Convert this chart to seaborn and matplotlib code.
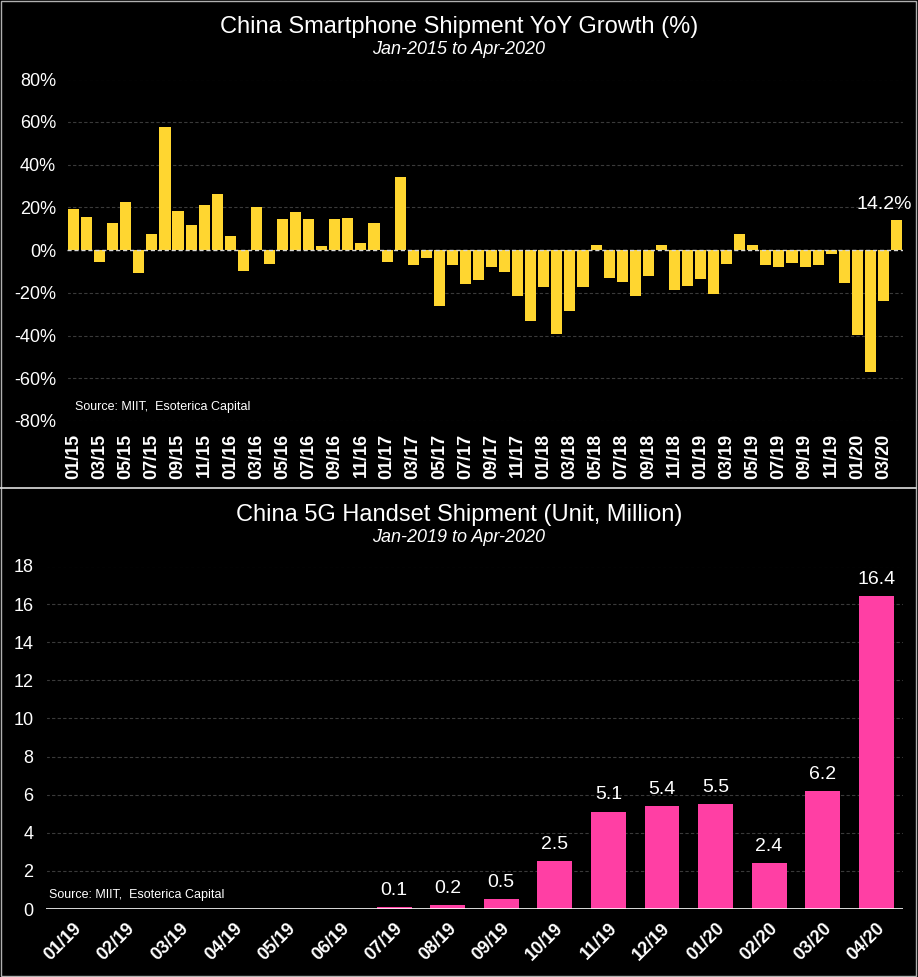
import pandas as pd
import matplotlib.pyplot as plt
import seaborn as sns
from matplotlib.lines import Line2D
from matplotlib.patches import Rectangle

# Monthly YoY growth of China smartphone shipments (%), Jan-2015 .. Apr-2020
yoy_months = pd.date_range('2015-01-01', '2020-04-01', freq='MS').strftime('%m/%y').tolist()
yoy_growth = [
    19.3, 15.6, -5.6, 12.5, 22.6, -10.7, 7.3, 57.6, 18.4, 11.8, 20.9, 26.3,
    6.4, -9.8, 20.2, -6.5, 14.3, 17.9, 14.3, 1.7, 14.3, 14.8, 3.4, 12.8,
    -5.6, 34.3, -7.0, -3.7, -26.2, -7.0, -15.7, -14.0, -7.9, -10.3, -21.5, -33.2,
    -17.3, -39.3, -28.5, -17.3, 2.5, -12.9, -15.0, -21.5, -12.1, 2.2, -18.7, -16.8,
    -13.4, -20.4, -6.5, 7.6, 2.2, -7.0, -7.9, -6.1, -7.9, -7.0, -1.9, -15.4,
    -39.7, -56.9, -24.0, 14.2,
]

# China 5G handset shipments (million units), Jan-2019 .. Apr-2020
g5_months = ['01/19', '02/19', '03/19', '04/19', '05/19', '06/19', '07/19', '08/19',
             '09/19', '10/19', '11/19', '12/19', '01/20', '02/20', '03/20', '04/20']
g5_units = [0, 0, 0, 0, 0, 0, 0.1, 0.2, 0.5, 2.5, 5.1, 5.4, 5.5, 2.4, 6.2, 16.4]

yellow = '#FFD630'
pink = '#FF3FA4'
grid_col = '#3a3a3a'

sns.set_style('dark')
plt.rcParams.update({
    'figure.facecolor': 'black',
    'axes.facecolor': 'black',
    'text.color': 'white',
    'xtick.color': 'white',
    'ytick.color': 'white',
    'axes.edgecolor': 'black',
})
plt.rcParams['font.family'] = ['Liberation Sans', 'DejaVu Sans']

fig = plt.figure(figsize=(9.18, 9.77), dpi=100)
ax1 = fig.add_axes([0.073, 0.5691, 0.9107, 0.35])
ax2 = fig.add_axes([0.0501, 0.0696, 0.9336, 0.3511])

# --- top chart: YoY growth
yoy_df = pd.DataFrame({'month': yoy_months, 'growth': yoy_growth})
sns.barplot(data=yoy_df, x='month', y='growth', color=yellow, width=0.85,
            saturation=1, linewidth=0, ax=ax1, zorder=3)
ax1.set_ylim(-80, 80)
ax1.set_xlim(-0.5, len(yoy_months) - 0.5)
ax1.set_yticks(range(-80, 81, 20))
ax1.set_yticklabels([f'{v}%' for v in range(-80, 81, 20)], fontsize=13)
ax1.set_xticks(range(0, len(yoy_months), 2))
ax1.set_xticklabels(yoy_months[::2], rotation=90, fontsize=13, fontweight='bold')
ax1.tick_params(axis='both', length=0)
ax1.tick_params(axis='y', pad=8)
ax1.tick_params(axis='x', pad=9)
ax1.set_xlabel('')
ax1.set_ylabel('')
for v in range(-80, 81, 20):
    if v != 0:
        ax1.axhline(v, color=grid_col, lw=0.8, ls=(0, (3, 2)), zorder=1)
ax1.axhline(0, color='#d8d8d8', lw=1.0, ls=(0, (3, 2)), zorder=4)
ax1.annotate(f'{yoy_growth[-1]}%', xy=(len(yoy_growth) - 1, yoy_growth[-1]),
             xytext=(-9, 5), textcoords='offset points', ha='center', va='bottom',
             fontsize=14, color='white')
ax1.text(0.009, 0.042, 'Source: MIIT,  Esoterica Capital', transform=ax1.transAxes,
         fontsize=9, color='white', va='center')

# --- bottom chart: 5G handset shipments
g5_df = pd.DataFrame({'month': g5_months, 'units': g5_units})
sns.barplot(data=g5_df, x='month', y='units', color=pink, width=0.65,
            saturation=1, linewidth=0, ax=ax2, zorder=3)
ax2.set_ylim(0, 18)
ax2.set_xlim(-0.5, len(g5_months) - 0.5)
ax2.set_yticks(range(0, 19, 2))
ax2.set_yticklabels([str(v) for v in range(0, 19, 2)], fontsize=13)
ax2.set_xticks(range(len(g5_months)))
ax2.set_xticklabels(g5_months, rotation=45, ha='right', rotation_mode='anchor',
                    fontsize=13, fontweight='bold')
ax2.tick_params(axis='both', length=0)
ax2.tick_params(axis='y', pad=9)
ax2.tick_params(axis='x', pad=8)
ax2.set_xlabel('')
ax2.set_ylabel('')
for v in range(2, 19, 2):
    ax2.axhline(v, color=grid_col, lw=0.8, ls=(0, (3, 2)), zorder=1)
ax2.axhline(0, color='white', lw=1.2, zorder=4)
for i, u in enumerate(g5_units):
    if u > 0:
        ax2.annotate(f'{u}', xy=(i, u), xytext=(0, 6), textcoords='offset points',
                     ha='center', va='bottom', fontsize=14, color='white')
ax2.text(0.003, 0.04, 'Source: MIIT,  Esoterica Capital', transform=ax2.transAxes,
         fontsize=9, color='white', va='center')

# titles
fig.text(0.5, 1 - 27 / 977, 'China Smartphone Shipment YoY Growth (%)',
         ha='center', va='center', fontsize=17)
fig.text(0.5, 1 - 50 / 977, 'Jan-2015 to Apr-2020', ha='center', va='center',
         fontsize=13, style='italic')
fig.text(0.5, 1 - 515 / 977, 'China 5G Handset Shipment (Unit, Million)',
         ha='center', va='center', fontsize=17)
fig.text(0.5, 1 - 537 / 977, 'Jan-2019 to Apr-2020', ha='center', va='center',
         fontsize=13, style='italic')

# panel separator and outer frame
fig.add_artist(Line2D([0, 0.998], [1 - 488 / 977] * 2, color='#e0e0e0', lw=1.2,
                      transform=fig.transFigure))
fig.add_artist(Rectangle((0.001, 0.001), 0.997, 0.998, fill=False, edgecolor='#b0b0b0',
                         lw=1.0, transform=fig.transFigure))

fig.savefig('out.png', dpi=100, facecolor='black')
